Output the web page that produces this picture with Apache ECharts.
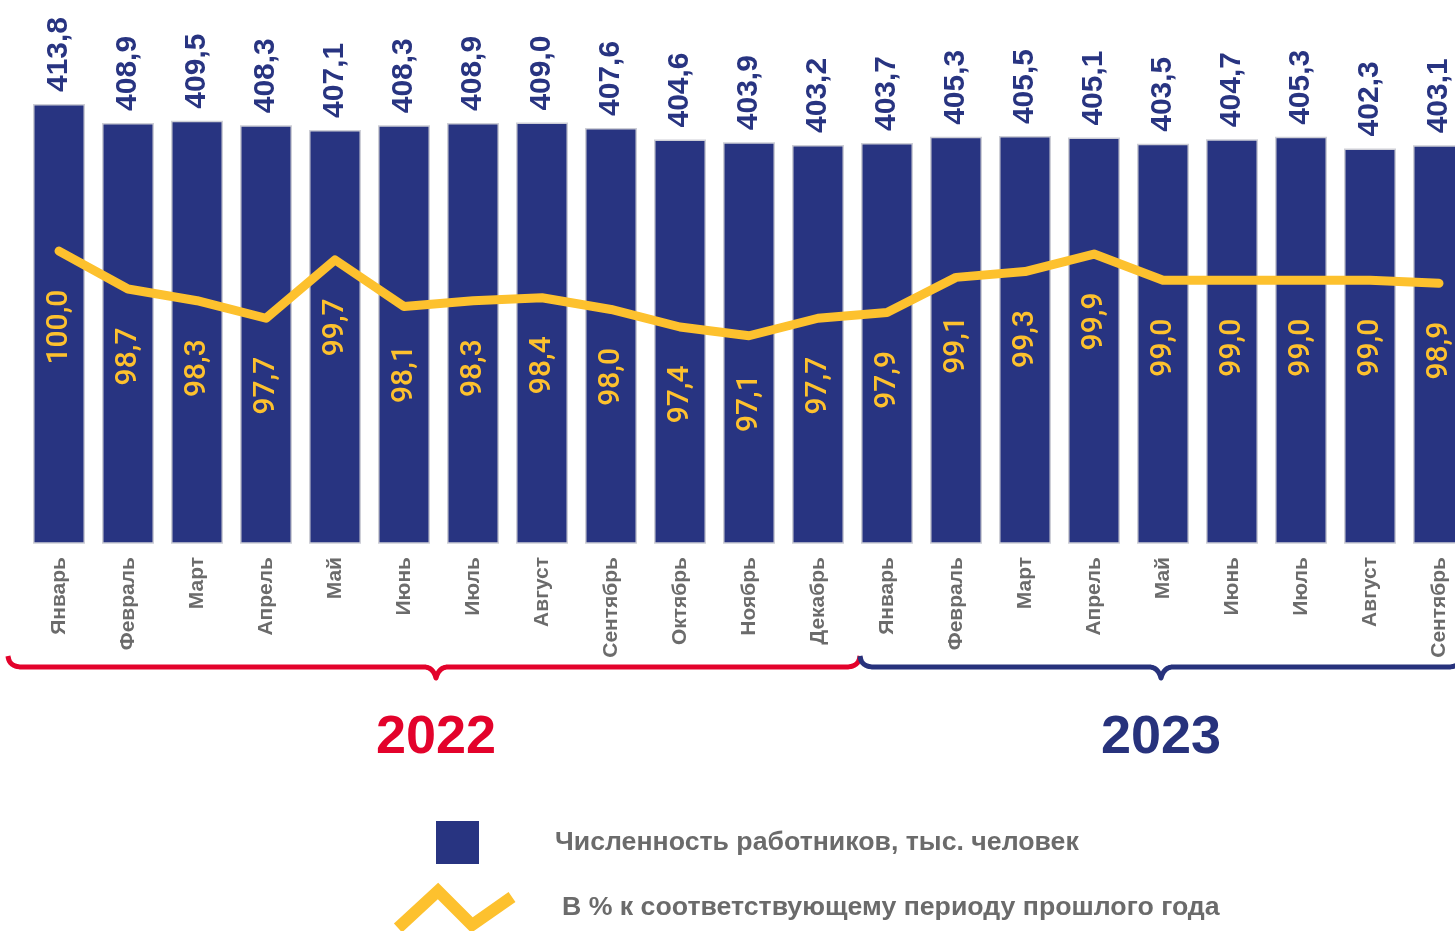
<!DOCTYPE html>
<html>
<head>
<meta charset="utf-8">
<script src="https://cdn.jsdelivr.net/npm/echarts@6/dist/echarts.min.js"></script>
<style>
html,body{margin:0;padding:0;background:#fff;}
#chart{width:1455px;height:931px;}
</style>
</head>
<body>
<div id="chart"></div>
<script>
const categories = ['Январь','Февраль','Март','Апрель','Май','Июнь','Июль','Август','Сентябрь','Октябрь','Ноябрь','Декабрь','Январь','Февраль','Март','Апрель','Май','Июнь','Июль','Август','Сентябрь'];
const workers = [413.8,408.9,409.5,408.3,407.1,408.3,408.9,409.0,407.6,404.6,403.9,403.2,403.7,405.3,405.5,405.1,403.5,404.7,405.3,402.3,403.1];
const percent = [100.0,98.7,98.3,97.7,99.7,98.1,98.3,98.4,98.0,97.4,97.1,97.7,97.9,99.1,99.3,99.9,99.0,99.0,99.0,99.0,98.9];
const years = ['2022','2023'];
const seriesNames = ['Численность работников, тыс. человек','В % к соответствующему периоду прошлого года'];

const BLUE = '#283481';
const YELLOW = '#fdc12e';
const RED = '#e3022b';
const GRAY = '#6b6b6b';

function fmt(v){ return v.toFixed(1).replace('.', ','); }

// thick zigzag polygon for the legend icon
function thickPolyline(pts, w){
  const h = w/2, n = [];
  for (let i=0;i<pts.length-1;i++){
    const dx = pts[i+1][0]-pts[i][0], dy = pts[i+1][1]-pts[i][1];
    const L = Math.hypot(dx,dy);
    n.push([-dy/L, dx/L]);
  }
  const left=[], right=[];
  for (let i=0;i<pts.length;i++){
    let off;
    if (i===0) off=[n[0][0]*h,n[0][1]*h];
    else if (i===pts.length-1) off=[n[i-1][0]*h,n[i-1][1]*h];
    else {
      let mx=n[i-1][0]+n[i][0], my=n[i-1][1]+n[i][1];
      const ml=Math.hypot(mx,my); mx/=ml; my/=ml;
      const len = h/(mx*n[i][0]+my*n[i][1]);
      off=[mx*len,my*len];
    }
    left.push([pts[i][0]+off[0],pts[i][1]+off[1]]);
    right.push([pts[i][0]-off[0],pts[i][1]-off[1]]);
  }
  const poly = left.concat(right.reverse());
  let minX=Infinity,minY=Infinity,maxX=-Infinity,maxY=-Infinity;
  poly.forEach(p=>{minX=Math.min(minX,p[0]);minY=Math.min(minY,p[1]);maxX=Math.max(maxX,p[0]);maxY=Math.max(maxY,p[1]);});
  const d = 'path://M' + poly.map(p=>p[0].toFixed(2)+','+p[1].toFixed(2)).join('L') + 'Z';
  return {d, minX, minY, w:maxX-minX, h:maxY-minY};
}
const zig = thickPolyline([[0,37],[40,0],[74,34],[114,6]], 12);
const zigLeft = 398 + zig.minX, zigTop = 891 + zig.minY;

// curly brace as sampled polyline: x0..x1 with tip at xm, baseline yb
function bracePoints(x0, xm, x1, yb, yEnd, tipDepth){
  const pts = [];
  function quad(p0, c, p1){
    for (let t=0;t<=1.0001;t+=0.1){
      const a=(1-t)*(1-t), b=2*(1-t)*t, d=t*t;
      pts.push([a*p0[0]+b*c[0]+d*p1[0], a*p0[1]+b*c[1]+d*p1[1]]);
    }
  }
  quad([x0,yEnd],[x0+1,yb],[x0+14,yb]);
  quad([xm-12,yb],[xm-3,yb],[xm,yb+tipDepth]);
  quad([xm,yb+tipDepth],[xm+3,yb],[xm+12,yb]);
  quad([x1-14,yb],[x1-1,yb],[x1,yEnd]);
  return pts;
}

const chart = echarts.init(document.getElementById('chart'), null, {renderer:'canvas'});
const option = {
  backgroundColor:'#ffffff',
  animation:false,
  grid:{left:24.5, width:1449, top:3, height:540, containLabel:false, outerBoundsMode:'none'},
  xAxis:{
    type:'category', data:categories,
    axisLine:{show:false}, axisTick:{show:false},
    axisLabel:{interval:0, rotate:90, margin:14, color:GRAY, fontSize:21, fontWeight:'bold', fontFamily:'Liberation Sans, Arial, sans-serif'}
  },
  yAxis:[
    {type:'value', min:300, max:440, show:false, splitLine:{show:false}},
    {type:'value', min:90, max:108.5, show:false, splitLine:{show:false}}
  ],
  legend:[
    {
      data:[{name:seriesNames[0], icon:'rect', itemStyle:{color:BLUE, borderWidth:0}}],
      left:436, top:821, padding:0, orient:'vertical', itemWidth:43, itemHeight:43, selectedMode:false,
      textStyle:{color:GRAY, fontSize:26.7, fontWeight:'bold', fontFamily:'Liberation Sans, Arial, sans-serif', padding:[0,0,5,71]}
    },
    {
      data:[{name:seriesNames[1], icon:zig.d, itemStyle:{color:YELLOW, borderWidth:0}}],
      left:zigLeft, top:zigTop, padding:0, orient:'vertical', itemWidth:zig.w, itemHeight:zig.h, selectedMode:false,
      textStyle:{color:GRAY, fontSize:26.7, fontWeight:'bold', fontFamily:'Liberation Sans, Arial, sans-serif', padding:[0,0,24,562-(zigLeft+zig.w+5)]}
    }
  ],
  series:[
    {
      name:seriesNames[0], type:'bar', data:workers, yAxisIndex:0, barWidth:52,
      itemStyle:{color:BLUE, borderColor:'#cdced6', borderWidth:1.5},
      label:{show:true, position:'top', distance:12, rotate:90, align:'left', verticalAlign:'middle',
        color:BLUE, fontSize:30, fontWeight:'bold', fontFamily:'Liberation Sans, Arial, sans-serif',
        formatter:p=>fmt(p.value)},
      z:2
    },
    {
      name:seriesNames[1], type:'line', data:percent, yAxisIndex:1,
      symbol:'circle', symbolSize:1, showSymbol:true,
      itemStyle:{color:YELLOW},
      lineStyle:{color:YELLOW, width:9, cap:'round', join:'round'},
      label:{show:true, position:'bottom', distance:38, rotate:90, align:'right', verticalAlign:'middle',
        color:YELLOW, fontSize:30, fontWeight:500, fontFamily:'Roboto, sans-serif',
        formatter:p=>fmt(p.value)},
      z:5
    }
  ],
  graphic:[
    {type:'polyline', shape:{points:bracePoints(8,436,860,667,656,11)},
      style:{stroke:RED, lineWidth:5, fill:null, lineJoin:'round'}},
    {type:'polyline', shape:{points:bracePoints(860,1161,1462,667,656,11)},
      style:{stroke:'#27327c', lineWidth:5, fill:null, lineJoin:'round'}},
    {type:'text', x:436, y:738, style:{text:years[0], fill:RED, font:'bold 54px "Liberation Sans", Arial, sans-serif', textAlign:'center', textVerticalAlign:'middle'}},
    {type:'text', x:1161, y:738, style:{text:years[1], fill:'#27327c', font:'bold 54px "Liberation Sans", Arial, sans-serif', textAlign:'center', textVerticalAlign:'middle'}}
  ]
};
chart.setOption(option);
</script>
</body>
</html>
